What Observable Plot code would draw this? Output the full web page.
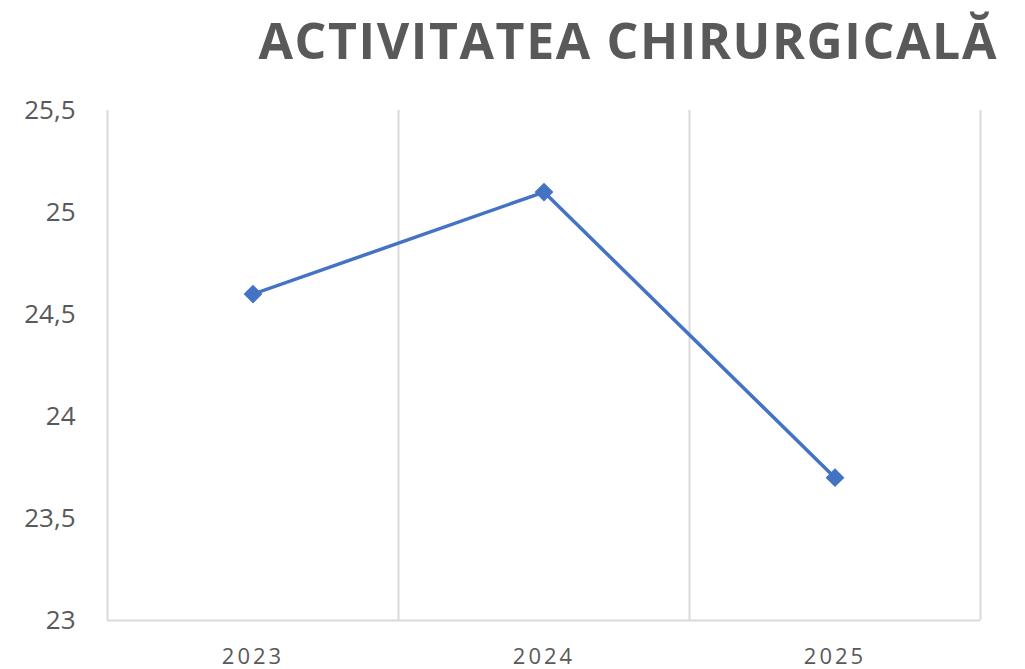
<!DOCTYPE html>
<html><head><meta charset="utf-8">
<script src="https://cdn.jsdelivr.net/npm/d3@7"></script>
<script src="https://cdn.jsdelivr.net/npm/@observablehq/plot@0.6"></script>
<style>
body{margin:0;background:#fff;}
#wrap{position:relative;width:1025px;height:669px;}
#title{position:absolute;right:27px;top:6px;font-family:"Open Sans",sans-serif;font-weight:700;font-size:50px;color:#595959;letter-spacing:1.6px;white-space:nowrap;}
</style></head>
<body><div id="wrap"><div id="title">ACTIVITATEA CHIRURGICALĂ</div><div id="chart"></div></div>
<script>
const years = [2023, 2024, 2025];
const values = [24.6, 25.1, 23.7];
const yTicks = [23, 23.5, 24, 24.5, 25, 25.5];
const boundaries = [2022.5, 2023.5, 2024.5, 2025.5];
const data = years.map((y, i) => ({year: y, value: values[i]}));
const fmt = d => String(d).replace(".", ",");
const chart = Plot.plot({
  width: 1025, height: 669,
  marginTop: 110, marginBottom: 49, marginLeft: 107, marginRight: 45,
  style: {fontFamily: "'Open Sans', sans-serif", color: "#595959", background: "#fff"},
  x: {domain: [2022.5, 2025.5], axis: null},
  y: {domain: [23, 25.5], axis: null},
  marks: [
    Plot.ruleX(boundaries, {stroke: "#d9d9d9", strokeWidth: 2}),
    Plot.ruleY([23], {stroke: "#d9d9d9", strokeWidth: 2}),
    Plot.axisY({ticks: yTicks, tickSize: 0, tickPadding: 32, tickFormat: fmt, fontSize: 26, fill: "#595959", label: null}),
    Plot.axisX({ticks: years, tickSize: 0, tickPadding: 28, tickFormat: d => String(d), fontSize: 22, fill: "#595959", label: null}),
    Plot.line(data, {x: "year", y: "value", stroke: "#4472C4", strokeWidth: 3.5}),
    Plot.dot(data, {x: "year", y: "value", symbol: "square", rotate: 45, r: 7.5, fill: "#4472C4", stroke: "none"})
  ]
});
document.getElementById("chart").appendChild(chart);
chart.querySelectorAll("g[aria-label='x-axis tick label'] text").forEach(t => t.setAttribute("letter-spacing", "3px"));
</script></body></html>
